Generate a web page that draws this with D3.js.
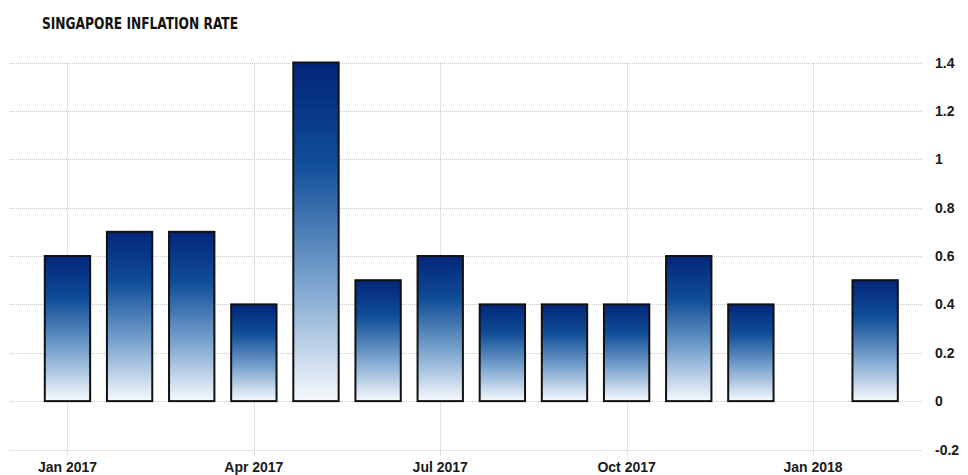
<!DOCTYPE html>
<html>
<head>
<meta charset="utf-8">
<script src="https://cdn.jsdelivr.net/npm/d3@7/dist/d3.min.js"></script>
<style>
  html, body { margin: 0; padding: 0; background: #fff; }
  svg { display: block; }
</style>
</head>
<body>
<svg id="chart" width="968" height="475"></svg>
<script>
// Monthly year-on-year CPI change, Singapore
const months = ["2017-01","2017-02","2017-03","2017-04","2017-05","2017-06","2017-07",
                "2017-08","2017-09","2017-10","2017-11","2017-12","2018-01","2018-02"];
const inflation = [0.6, 0.7, 0.7, 0.4, 1.4, 0.5, 0.6, 0.4, 0.4, 0.4, 0.6, 0.4, 0.0, 0.5];
const xTickMonths = ["2017-01","2017-04","2017-07","2017-10","2018-01"];
const xTickLabels = ["Jan 2017","Apr 2017","Jul 2017","Oct 2017","Jan 2018"];
const yTicks = [-0.2, 0, 0.2, 0.4, 0.6, 0.8, 1, 1.2, 1.4];

const svg = d3.select("#chart");

const x = d3.scaleBand()
  .domain(months)
  .range([36.4, 906.2])
  .paddingInner(0.27)
  .paddingOuter(0.135);

const y = d3.scaleLinear().domain([-0.2, 1.4]).range([449.5, 62.5]);

const gridLeft = 10, gridRight = 922;

// gradient: dark navy at the top of each bar fading to white at the base
const defs = svg.append("defs");
const grad = defs.append("linearGradient")
  .attr("id", "barGrad").attr("x1", 0).attr("y1", 0).attr("x2", 0).attr("y2", 1);
grad.append("stop").attr("offset", "0%").attr("stop-color", "#03257a");
grad.append("stop").attr("offset", "30%").attr("stop-color", "#104e98");
grad.append("stop").attr("offset", "65%").attr("stop-color", "#7aa3ce");
grad.append("stop").attr("offset", "100%").attr("stop-color", "#f6f9fd");

// horizontal gridlines
svg.append("g").selectAll("line").data(yTicks).join("line")
  .attr("x1", gridLeft).attr("x2", gridRight)
  .attr("y1", d => Math.round(y(d)) + 0.5).attr("y2", d => Math.round(y(d)) + 0.5)
  .attr("stroke", "#c8c8c8").attr("stroke-width", 1).attr("stroke-dasharray", "1,1");

// vertical gridlines at quarter starts
const center = m => x(m) + x.bandwidth() / 2;
svg.append("g").selectAll("line").data(xTickMonths).join("line")
  .attr("x1", d => Math.round(center(d)) + 0.5).attr("x2", d => Math.round(center(d)) + 0.5)
  .attr("y1", y(1.4)).attr("y2", y(-0.2) + 6)
  .attr("stroke", "#c8c8c8").attr("stroke-width", 1).attr("stroke-dasharray", "1,1");

// bars (a zero reading leaves no visible bar)
const data = months.map((m, i) => ({ month: m, value: inflation[i] }));
svg.append("g").selectAll("rect").data(data.filter(d => d.value !== 0)).join("rect")
  .attr("x", d => x(d.month))
  .attr("width", x.bandwidth())
  .attr("y", d => y(Math.max(0, d.value)))
  .attr("height", d => Math.abs(y(d.value) - y(0)))
  .attr("fill", "url(#barGrad)")
  .attr("stroke", "#111")
  .attr("stroke-width", 2);

// y labels on the right
svg.append("g").selectAll("text").data(yTicks).join("text")
  .attr("x", 935)
  .attr("y", d => y(d))
  .attr("dy", "0.36em")
  .attr("font-family", "'Liberation Sans', Arial, sans-serif")
  .attr("font-weight", "bold")
  .attr("font-size", 14)
  .attr("fill", "#1a1a1a")
  .text(d => String(d));

// x labels
svg.append("g").selectAll("text").data(xTickMonths).join("text")
  .attr("x", d => center(d))
  .attr("y", 472)
  .attr("text-anchor", "middle")
  .attr("font-family", "'Liberation Sans', Arial, sans-serif")
  .attr("font-weight", "bold")
  .attr("font-size", 14)
  .attr("fill", "#1a1a1a")
  .text((d, i) => xTickLabels[i]);

// title
svg.append("text")
  .attr("x", 42).attr("y", 29)
  .attr("font-family", "'DejaVu Sans Condensed', 'DejaVu Sans', sans-serif")
  .attr("font-weight", "bold")
  .attr("font-size", 15.5)
  .attr("textLength", 196)
  .attr("lengthAdjust", "spacingAndGlyphs")
  .attr("fill", "#111")
  .text("SINGAPORE INFLATION RATE");
</script>
</body>
</html>
